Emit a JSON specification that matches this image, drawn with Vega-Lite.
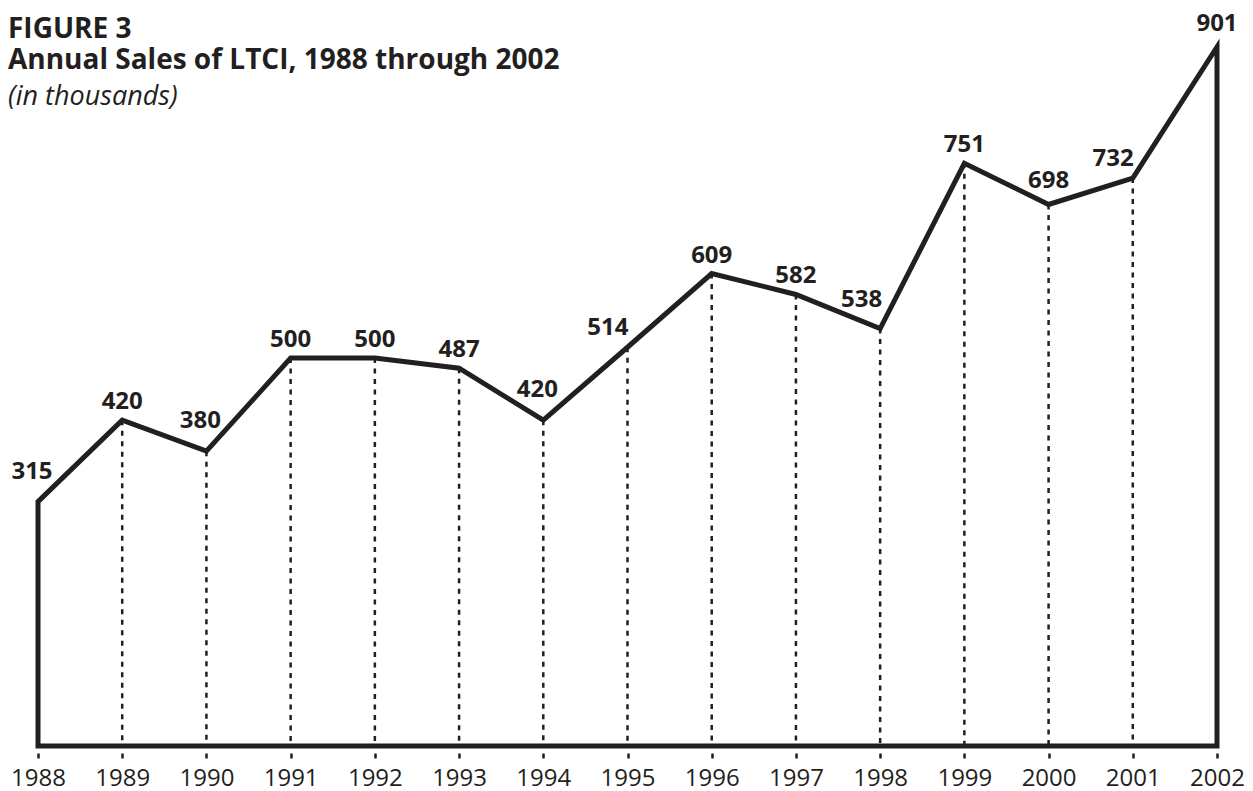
{
  "$schema": "https://vega.github.io/schema/vega-lite/v6.json",
  "width": 1179,
  "height": 699,
  "autosize": {"type": "none"},
  "padding": {"left": 38, "top": 47, "right": 36, "bottom": 45},
  "background": "white",
  "config": {"view": {"stroke": null}},
  "title": {
    "text": ["FIGURE 3", "Annual Sales of LTCI, 1988 through 2002"],
    "subtitle": "(in thousands)",
    "orient": "top",
    "anchor": "start",
    "frame": "group",
    "dx": -30,
    "offset": -98,
    "font": "Open Sans",
    "fontSize": 28,
    "fontWeight": "bold",
    "lineHeight": 31,
    "color": "#231f20",
    "subtitleFont": "Open Sans",
    "subtitleFontSize": 27,
    "subtitleFontStyle": "italic",
    "subtitleFontWeight": "normal",
    "subtitleColor": "#231f20",
    "subtitlePadding": 9
  },
  "data": {
    "values": [
      {"year": 1988, "sales": 315},
      {"year": 1989, "sales": 420},
      {"year": 1990, "sales": 380},
      {"year": 1991, "sales": 500},
      {"year": 1992, "sales": 500},
      {"year": 1993, "sales": 487},
      {"year": 1994, "sales": 420},
      {"year": 1995, "sales": 514},
      {"year": 1996, "sales": 609},
      {"year": 1997, "sales": 582},
      {"year": 1998, "sales": 538},
      {"year": 1999, "sales": 751},
      {"year": 2000, "sales": 698},
      {"year": 2001, "sales": 732},
      {"year": 2002, "sales": 901}
    ]
  },
  "encoding": {
    "x": {
      "field": "year",
      "type": "quantitative",
      "scale": {"domain": [1988, 2002], "nice": false, "zero": false},
      "axis": {
        "title": null,
        "values": [1988, 1989, 1990, 1991, 1992, 1993, 1994, 1995, 1996, 1997, 1998, 1999, 2000, 2001, 2002],
        "format": "d",
        "domain": false,
        "grid": false,
        "ticks": true,
        "tickSize": 12,
        "tickWidth": 2.5,
        "tickDash": [0, 7, 5, 10],
        "tickColor": "#231f20",
        "labelFont": "Open Sans",
        "labelFontSize": 24,
        "labelColor": "#231f20",
        "labelPadding": 8,
        "labelFlush": false,
        "labelOverlap": false
      }
    },
    "y": {
      "field": "sales",
      "type": "quantitative",
      "scale": {"domain": [0, 901], "nice": false},
      "axis": null
    }
  },
  "layer": [
    {
      "transform": [{"filter": {"field": "year", "oneOf": [1989, 1990, 1991, 1992, 1993, 1994, 1995, 1996, 1997, 1998, 1999, 2000, 2001]}}],
      "mark": {"type": "rule", "stroke": "#231f20", "strokeWidth": 2.5, "strokeDash": [5, 5.5]},
      "encoding": {"y2": {"datum": 0}}
    },
    {
      "mark": {"type": "area", "fill": "transparent", "stroke": "#231f20", "strokeWidth": 5, "strokeJoin": "miter"}
    },
    {
      "transform": [{"filter": {"field": "year", "oneOf": [1989, 1991, 1992, 1993, 1996, 1997, 1999]}}],
      "mark": {"type": "text", "font": "Open Sans", "fontWeight": "bold", "fontSize": 24, "color": "#231f20", "baseline": "alphabetic", "align": "center", "dy": -11},
      "encoding": {"text": {"field": "sales", "type": "quantitative"}}
    },
    {
      "transform": [{"filter": {"field": "year", "oneOf": [2000, 2002]}}],
      "mark": {"type": "text", "font": "Open Sans", "fontWeight": "bold", "fontSize": 24, "color": "#231f20", "baseline": "alphabetic", "align": "center", "dy": -16},
      "encoding": {"text": {"field": "sales", "type": "quantitative"}}
    },
    {
      "transform": [{"filter": {"field": "year", "oneOf": [1988, 1990, 1994]}}],
      "mark": {"type": "text", "font": "Open Sans", "fontWeight": "bold", "fontSize": 24, "color": "#231f20", "baseline": "alphabetic", "align": "center", "dx": -6, "dy": -23},
      "encoding": {"text": {"field": "sales", "type": "quantitative"}}
    },
    {
      "transform": [{"filter": {"field": "year", "oneOf": [1995, 2001]}}],
      "mark": {"type": "text", "font": "Open Sans", "fontWeight": "bold", "fontSize": 24, "color": "#231f20", "baseline": "alphabetic", "align": "right", "dx": 1, "dy": -12},
      "encoding": {"text": {"field": "sales", "type": "quantitative"}}
    },
    {
      "transform": [{"filter": {"field": "year", "oneOf": [1998]}}],
      "mark": {"type": "text", "font": "Open Sans", "fontWeight": "bold", "fontSize": 24, "color": "#231f20", "baseline": "alphabetic", "align": "right", "dx": 2, "dy": -22},
      "encoding": {"text": {"field": "sales", "type": "quantitative"}}
    }
  ]
}
